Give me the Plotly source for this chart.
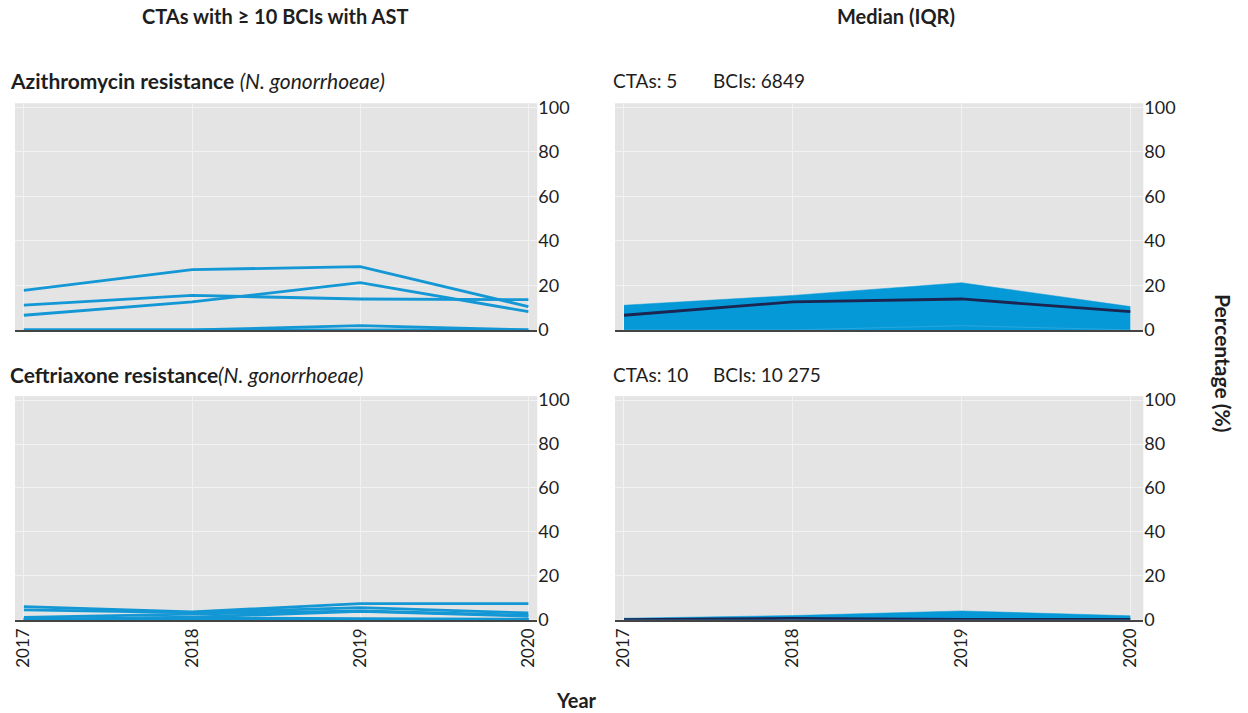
import plotly.graph_objects as go

years = [2017, 2018, 2019, 2020]

# Azithromycin resistance, one list per CTA (%)
azi_lines = [
    [17.8, 27.1, 28.4, 10.5],
    [11.1, 15.5, 13.9, 13.6],
    [6.6, 12.6, 21.2, 8.2],
    [0.0, 0.0, 1.9, 0.0],
    [0.0, 0.0, 0.0, 0.0],
]
azi_median = [6.6, 12.6, 13.9, 8.2]
azi_q1 = [0.0, 0.0, 1.9, 0.0]
azi_q3 = [11.1, 15.5, 21.2, 10.5]

# Ceftriaxone resistance, one list per CTA (%)
cef_lines = [
    [6.0, 3.6, 7.3, 7.3],
    [4.5, 3.2, 5.5, 3.1],
    [1.1, 2.6, 4.0, 2.0],
    [0.0, 1.2, 3.8, 1.6],
    [0.0, 0.9, 0.5, 0.2],
    [0.0, 0.6, 0.0, 0.0],
    [0.0, 0.0, 0.0, 0.0],
    [0.0, 0.0, 0.0, 0.0],
    [0.0, 0.0, 0.0, 0.0],
    [0.0, 0.0, 0.0, 0.0],
]
cef_median = [0.0, 0.6, 0.2, 0.1]
cef_q1 = [0.0, 0.0, 0.0, 0.0]
cef_q3 = [0.7, 1.9, 4.0, 1.8]

y_ticks = [0, 20, 40, 60, 80, 100]

FONT = "Lato"
BLUE = "#1397d5"
FILL = "#0599d8"
NAVY = "#1b2550"
BG = "#e4e4e4"
TXT = "#1e1e1e"

W, H = 1248, 713


def px_x(v):
    return v / W


def px_y(v):
    # the rendered page comes out slightly squashed vertically, stretch to compensate
    v = H / 2 + (v - H / 2) / 0.972
    return 1 - v / H


fig = go.Figure()

for ln in azi_lines:
    fig.add_trace(go.Scatter(x=years, y=ln, mode="lines", line=dict(color=BLUE, width=2.8),
                             xaxis="x", yaxis="y", hoverinfo="skip"))
for ln in cef_lines:
    fig.add_trace(go.Scatter(x=years, y=ln, mode="lines", line=dict(color=BLUE, width=2.8),
                             xaxis="x3", yaxis="y3", hoverinfo="skip"))


def add_iqr(xa, ya, q1, q3, med):
    fig.add_trace(go.Scatter(x=years, y=q3, mode="lines", line=dict(color=FILL, width=0.5),
                             fill="tozeroy", fillcolor=FILL, xaxis=xa, yaxis=ya, hoverinfo="skip"))
    fig.add_trace(go.Scatter(x=years, y=q1, mode="lines", line=dict(color="#2aa6dd", width=1),
                             xaxis=xa, yaxis=ya, hoverinfo="skip"))
    fig.add_trace(go.Scatter(x=years, y=med, mode="lines", line=dict(color=NAVY, width=2.8),
                             xaxis=xa, yaxis=ya, hoverinfo="skip"))


add_iqr("x2", "y2", azi_q1, azi_q3, azi_median)
add_iqr("x4", "y4", cef_q1, cef_q3, cef_median)

left_dom = [px_x(12), px_x(536)]
right_dom = [px_x(614), px_x(1144)]
top_dom = [px_y(331), px_y(105)]
bot_dom = [px_y(620), px_y(397)]

tick_font = dict(family=FONT, size=17, color=TXT)


def xaxis(dom, anchor, rng, labels):
    return dict(domain=dom, anchor=anchor, range=rng, tickvals=years,
                ticktext=[str(y) for y in years] if labels else None,
                showticklabels=labels, tickangle=-90, tickfont=tick_font,
                showgrid=True, gridcolor="#f2f2f2", gridwidth=1,
                showline=True, linecolor="#444", linewidth=1.5, zeroline=False,
                ticks="", fixedrange=True)


def yaxis(dom, anchor):
    return dict(domain=dom, anchor=anchor, range=[0, 101.8], tickvals=y_ticks,
                side="right", tickfont=dict(family=FONT, size=18, color=TXT),
                showgrid=True, gridcolor="#f2f2f2",
                gridwidth=1, zeroline=False, showline=False, ticks="", fixedrange=True)


lrange = [2016.947, 2020.053]
rrange = [2016.947, 2020.077]

fig.update_layout(
    width=W, height=H,
    margin=dict(l=0, r=0, t=0, b=0),
    paper_bgcolor="white",
    plot_bgcolor=BG,
    showlegend=False,
    font=dict(family=FONT, color=TXT),
    xaxis=xaxis(left_dom, "y", lrange, False),
    yaxis=yaxis(top_dom, "x"),
    xaxis2=xaxis(right_dom, "y2", rrange, False),
    yaxis2=yaxis(top_dom, "x2"),
    xaxis3=xaxis(left_dom, "y3", lrange, True),
    yaxis3=yaxis(bot_dom, "x3"),
    xaxis4=xaxis(right_dom, "y4", rrange, True),
    yaxis4=yaxis(bot_dom, "x4"),
)

annotations = [
    dict(x=px_x(273), y=px_y(18), text="<b>CTAs with ≥ 10 BCIs with AST</b>", size=20, anchor="center"),
    dict(x=px_x(896), y=px_y(18), text="<b>Median (IQR)</b>", size=20, anchor="center"),
    dict(x=px_x(5), y=px_y(82), text="<b>Azithromycin resistance</b> <i>(N. gonorrhoeae)</i>", size=21, anchor="left"),
    dict(x=px_x(5), y=px_y(375), text="<b>Ceftriaxone resistance</b><i>(N. gonorrhoeae)</i>", size=21, anchor="left"),
    dict(x=px_x(610), y=px_y(82), text="CTAs: 5", size=19, anchor="left"),
    dict(x=px_x(710), y=px_y(82), text="BCIs: 6849", size=19, anchor="left"),
    dict(x=px_x(610), y=px_y(375), text="CTAs: 10", size=19, anchor="left"),
    dict(x=px_x(710), y=px_y(375), text="BCIs: 10 275", size=19, anchor="left"),
    dict(x=px_x(575), y=px_y(700), text="<b>Year</b>", size=20, anchor="center"),
]
for a in annotations:
    fig.add_annotation(x=a["x"], y=a["y"], xref="paper", yref="paper", text=a["text"],
                       showarrow=False, xanchor=a["anchor"], yanchor="middle",
                       font=dict(family=FONT, size=a["size"], color=TXT))

fig.add_annotation(x=px_x(1225), y=px_y(364), xref="paper", yref="paper",
                   text="<b>Percentage (%)</b>", showarrow=False, textangle=90,
                   xanchor="center", yanchor="middle",
                   font=dict(family=FONT, size=21, color=TXT))

# pin the chart to the top-left corner of the page
pin = ("document.body.style.margin='0';"
       "document.body.style.overflow='hidden';"
       "var d=document.getElementById('{plot_id}');"
       "d.style.position='fixed';d.style.top='0';d.style.left='0';")

fig.write_html("out.html", config={"displayModeBar": False}, post_script=pin)
